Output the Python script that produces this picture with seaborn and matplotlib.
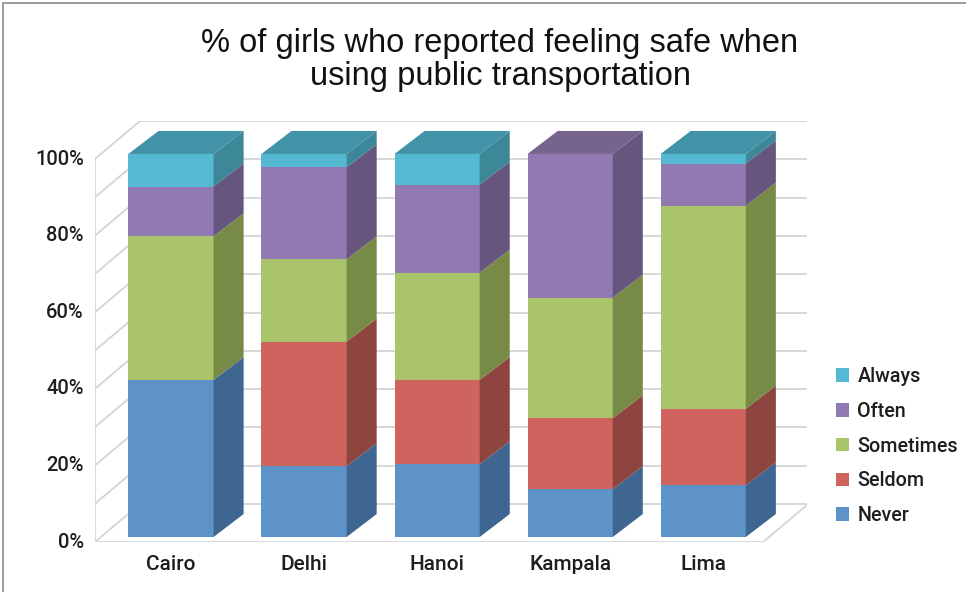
import pandas as pd
import matplotlib
matplotlib.use('Agg')
import matplotlib.pyplot as plt
from matplotlib.patches import Polygon, Rectangle
import seaborn as sns

# data (% of girls)
cities = ['Cairo', 'Delhi', 'Hanoi', 'Kampala', 'Lima']
never = [41, 18.5, 19, 12.5, 13.5]
seldom = [0, 32.5, 22, 18.5, 20]
sometimes = [37.5, 21.5, 28, 31.5, 53]
often = [13, 24, 23, 37.5, 11]
always = [8.5, 3.5, 8, 0, 2.5]

series = ['Never', 'Seldom', 'Sometimes', 'Often', 'Always']
front_colors = ['#5e93c8', '#cf645e', '#aac46c', '#917ab2', '#56b9d3']
side_colors = ['#3f6690', '#8e4540', '#788b46', '#66567e', '#3c8798']
top_colors = ['#4a76a3', '#a8504b', '#8aa055', '#77648d', '#4293a7']
y_ticks = [0, 20, 40, 60, 80, 100]

df = pd.DataFrame({'City': cities, 'Never': never, 'Seldom': seldom,
                   'Sometimes': sometimes, 'Often': often, 'Always': always})
cum = df[series].cumsum(axis=1)
bottoms = cum - df[series]

sns.set_theme(style='white')
plt.rcParams['font.family'] = ['Roboto', 'DejaVu Sans']

fig = plt.figure(figsize=(9.66, 5.92), dpi=100)
ax = fig.add_axes([95 / 966, 50 / 592, 712 / 966, 421 / 592])

# fake 3D geometry
BAR_W = 0.64
BDX, BDY = 0.226, 6.0      # bar depth
WDX, WDY = 0.338, 9.9      # wall depth
FX0, FX1, FY = -0.571, 4.45, -1.3

# walls and floor
grid = '#d4d4d4'
for v in range(0, 101, 10):
    y = v + FY
    ax.plot([FX0, FX0 + WDX], [y, y + WDY], color=grid, lw=1.3, zorder=0)
    ax.plot([FX0 + WDX, FX1 + WDX], [y + WDY, y + WDY], color=grid, lw=1.3, zorder=0)
ax.plot([FX0, FX0], [FY, 100 + FY], color=grid, lw=1.3, zorder=0)
ax.plot([FX0, FX1, FX1 + WDX], [FY, FY, FY + WDY], color=grid, lw=1.3, zorder=0)

# front faces, drawn from the top series down
for s, c in reversed(list(zip(series, front_colors))):
    sns.barplot(x=df['City'], y=cum[s], color=c, width=BAR_W, saturation=1,
                errorbar=None, label=s, linewidth=0, zorder=2, ax=ax)

# side and top faces
for i in range(len(cities)):
    xl, xr = i - BAR_W / 2, i + BAR_W / 2
    top_j = 0
    for j, s in enumerate(series):
        b, t = bottoms.loc[i, s], cum.loc[i, s]
        if t - b <= 0:
            continue
        top_j = j
        ax.add_patch(Polygon([(xr, b), (xr + BDX, b + BDY), (xr + BDX, t + BDY), (xr, t)],
                             closed=True, fc=side_colors[j], ec='none', zorder=2))
    T = cum.loc[i, series[-1]]
    ax.add_patch(Polygon([(xl, T), (xl + BDX, T + BDY), (xr + BDX, T + BDY), (xr, T)],
                         closed=True, fc=top_colors[top_j], ec='none', zorder=2))

ax.set_xlim(FX0, 4.78)
ax.set_ylim(FY, 108.6)
ax.set_xlabel('')
ax.set_ylabel('')
for sp in ax.spines.values():
    sp.set_visible(False)
ax.set_yticks([v - 0.8 for v in y_ticks], labels=[f'{v}%' for v in y_ticks])
ax.tick_params(axis='y', length=0, pad=8, labelsize=14.5, labelcolor='#1e1e1e')
ax.tick_params(axis='x', length=0, pad=9, labelsize=15, labelcolor='#1e1e1e')
for lab in ax.get_xticklabels() + ax.get_yticklabels():
    lab.set_fontweight('medium')
if ax.legend_ is not None:
    ax.legend_.remove()

handles, labels = ax.get_legend_handles_labels()
fig.legend(handles, labels, loc='center left', bbox_to_anchor=(818 / 966, 1 - 446 / 592),
           frameon=False, prop={'size': 14.2, 'weight': 'medium'}, handlelength=0.68,
           handleheight=0.68, handletextpad=0.42, labelspacing=0.8, labelcolor='#1e1e1e')

fig.text(500 / 966, 1 - 60 / 592,
         '% of girls who reported feeling safe when\nusing public transportation',
         ha='center', va='center', fontsize=23.5, linespacing=1.12, color='#111111',
         family=['Liberation Sans', 'DejaVu Sans'])

# outer frame
fig.patches.append(Rectangle((3 / 966, -0.1), 2, 1.1 - 3 / 592, transform=fig.transFigure,
                             fill=False, edgecolor='#8a8a8a', lw=1.2))

fig.savefig('out.png', dpi=100)
